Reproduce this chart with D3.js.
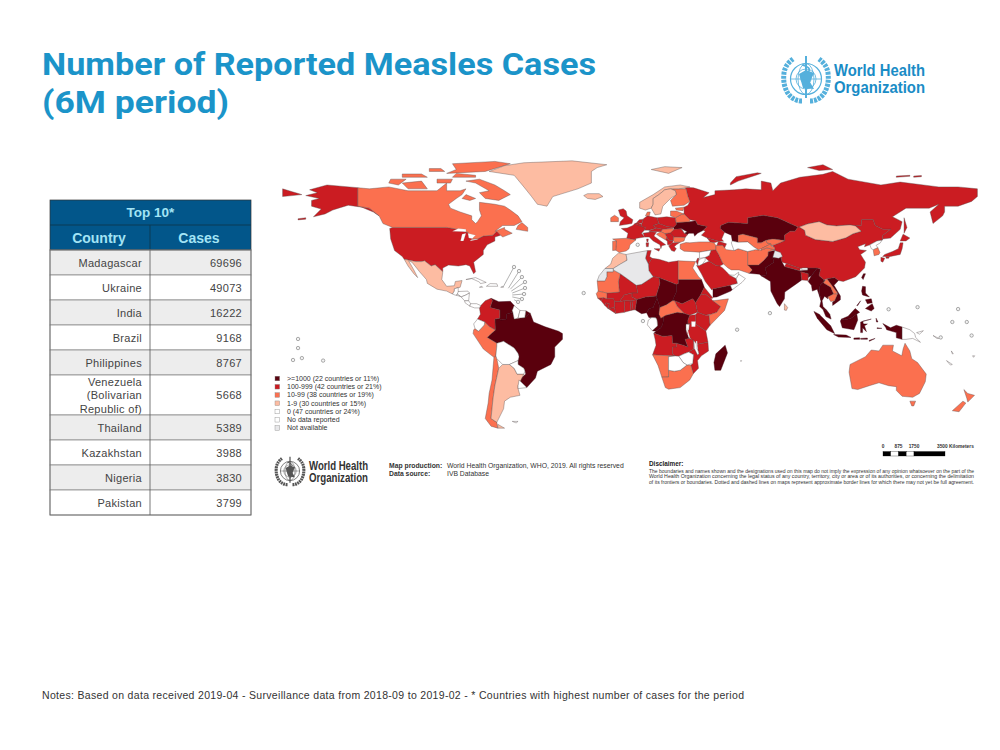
<!DOCTYPE html>
<html>
<head>
<meta charset="utf-8">
<script src="https://cdn.jsdelivr.net/npm/d3@7"></script>
<style>
  html, body { margin: 0; background: #fff; }
  text { font-family: "Liberation Sans", Arial, sans-serif; }
</style>
</head>
<body>
<svg id="chart" width="1000" height="750"></svg>
<script>
// top 10 table
const tableTitle = 'Top 10*';
const tableHeads = ['Country', 'Cases'];
const countries = ['Madagascar', 'Ukraine', 'India', 'Brazil', 'Philippines', 'Venezuela (Bolivarian Republic of)', 'Thailand', 'Kazakhstan', 'Nigeria', 'Pakistan'];
const cases = [69696, 49073, 16222, 9168, 8767, 5668, 5389, 3988, 3830, 3799];

// legend
const legendLabels = ['>=1000 (22 countries or 11%)', '100-999 (42 countries or 21%)', '10-99 (38 countries or 19%)', '1-9 (30 countries or 15%)', '0 (47 countries or 24%)', 'No data reported', 'Not available'];
const binColors = ['#5a0410', '#cb1a20', '#fb7050', '#fdbca2', '#ffffff', '#ffffff', '#e8e8ea'];

// country outlines as "lon,lat" rings, one list per legend class
const binOver1000 = [
  ['Brazil', '-51.7,4.5 -50,0 -44,-2.5 -37,-4.8 -35,-6 -35,-9 -39,-13 -39,-18 -41,-22 -48,-25.5 -49,-29 -53.5,-34 -57.5,-30 -54,-27 -54.5,-25 -55,-24 -58,-22 -58,-20 -57.5,-18 -58,-16.3 -60,-13.5 -65.5,-10 -69,-11 -74,-8 -73,-7 -69.8,-4.2 -70,1.5 -67.5,2 -67,1 -64,1.5 -64,4 -60.7,5 -60,1.5 -58,2 -54.5,2.3'],
  ['French Guiana', '-54,5.8 -51.7,4.5 -54.5,2.3'],
  ['Venezuela', '-72,12.3 -68,10.5 -62,10.7 -60,8.5 -61,6 -60.7,5 -64,4 -64,1.5 -67,1 -67.5,2 -67.5,6.2 -72.5,7.5 -71.3,11'],
  ['Madagascar', '49.3,-12 50.5,-16 47,-25 44,-25 43.5,-21 44.5,-16.5'],
  ['Ukraine', '22.5,49 24,50.5 24,51.5 31,52 34,52.5 35,50.5 40,49.5 38,47.5 35,46 33.5,44.5 33,46 30.5,46 29.7,45.2 28.2,46 26.6,48.3 22.9,48'],
  ['Kazakhstan', '46.7,48.5 47,50 51,51.7 61,51 61,54 69,55.3 76.5,54 87,49.2 85.5,47 83,47 80,45 80.2,42.2 74,43 70.5,42.3 68,41 66,41 66,43.5 58.5,45.5 56,45 56,41.3 53,42 52.5,45 49,46.5'],
  ['Pakistan', '61,29.5 63.3,27 61.7,25.2 67,24.8 68.2,23.8 71,24.5 70,28 74.5,31 74,33 77,35.5 74.9,37 71.6,36.4 71.5,34.5 69.3,31.9 66.5,29.5'],
  ['India', '68.2,23.8 72.8,21 73,16 76.3,9.5 77.5,8 80,12 80.2,15.5 86.5,20 89,21.8 88.5,26 92.3,25 92.3,23 94,24 97,28 92,28 92,26.8 88,26.5 80,28.7 78.8,31 78,35 77,35.5 74,33 74.5,31 70,28 71,24.5'],
  ['Myanmar', '92.3,21 94,24 97,28 98.7,27.5 98,24 101,21.5 98.5,19 98,16 99,11 98,14 97,17 94.5,16 94,19'],
  ['Thailand', '98.5,19 101,21.5 100.2,20.4 104,18 105.5,14.5 102.5,13 102.5,12 100.8,13.4 99.5,11 100,8 102,6 100,6.5 98.3,8 99,11 98,16'],
  ['Vietnam', '102,22.4 106,23 108,21.5 105.7,19 109,13.5 109,11.5 105,8.6 105,10.4 106,11 107.5,14.5 107.5,15 104.5,19'],
  ['Malaysia', '100,6.5 102,6 103.5,4 104.2,1.5 101.5,2.8'],
  ['Malaysia', '109.6,1.5 113,3 116.7,7 119,5 117.5,4.2 114.5,2 111,1'],
  ['Indonesia', '109,0.5 109.6,1.5 111,1 114.5,2 117.5,4.2 118,1 116,-4 110,-3'],
  ['Indonesia', '95.3,5.5 98,4 104,-2 106,-6 102,-4 97,2'],
  ['Indonesia', '105.5,-6.5 112,-6.8 114.5,-8 108,-7.8'],
  ['Indonesia', '116,-8.3 119,-8.2 119,-9 116,-9'],
  ['Indonesia', '119.5,-8.5 123,-8.3 123,-9 119.5,-8.9'],
  ['Indonesia', '124,-9.5 127,-8.5 124,-10'],
  ['Indonesia', '119.5,-5.5 119.5,0 125,1.5 120.5,0.4 121,-1 123,-1 121.5,-2 122.5,-5 120.5,-3 120.5,-5.5'],
  ['Indonesia', '127.5,2 128.5,0 127.7,0'],
  ['Indonesia', '128,-3 130.5,-3.3 128,-3.4'],
  ['Indonesia', '131,-0.8 135,-3 138,-1.7 141,-2.6 141,-9 138,-8.2 138,-5.5 133,-4 132.5,-2.8'],
  ['Philippines', '120.5,18.5 122,18.3 122,15 124,13 120.5,14 120,16'],
  ['Philippines', '122,7 125.5,9.5 126.5,7 125,5.7'],
  ['Philippines', '122,11.5 125,12 125.5,10 123,9.5'],
  ['Philippines', '117.5,8.5 119.5,11 118,8.5'],
  ['Taiwan', '121,25 122,25 120.8,22 120,23'],
  ['Yemen', '43,12.8 45,13 52.2,16 53,16.7 52,19 44,17.4 43,17.3'],
  ['Sudan', '25,22 37,22 38.5,18 36.5,14 34,10 32.5,12 27,9.5 23,11 22,11 24,15.5 24,19.5 25,20'],
  ['Chad', '15,23 24,19.5 24,15.5 22,11 19,9 15.5,7.5 14,12.5 13.5,13.5 15.5,20'],
  ['Nigeria', '2.7,6.3 3.5,11.7 8,13 13.5,13.5 14,12.5 12,7.5 10,7 8.6,4.8 6,4.3'],
  ['Cameroon', '8.6,4.8 10,7 12,7.5 14,12.5 15.5,7.5 15,4 16,2 13.3,2.2 9.8,2.3'],
  ['DR Congo', '18.6,3.5 24.5,5 28,4.5 31,3.5 30,1 30,-1 29,-1.2 29,-4.4 29.5,-6 30.8,-8.5 28.5,-9 30,-13 27.5,-12 24,-11 22,-11 21.8,-7 17,-7.5 13,-6 12.3,-5.8 13.5,-4.8 16,-3 17,-1 17.5,3'],
  ['Congo', '13,3.5 18.6,3.5 17.5,3 17,-1 16,-3 13.5,-4.8 11.5,-4.5 14.3,-2 14,1']
];
const bin100 = [
  ['USA', '-124.5,48.5 -124,43 -122,37 -118,34 -117,32.5 -111,31.3 -108,31.3 -106.5,31.7 -103,29 -101,29.7 -97,26 -97,28 -94,29.5 -89,29 -85,29.7 -83,29 -81,25 -80,26 -81,31 -76,35 -76,37 -74,40 -70,42 -70,44 -67,45 -69,47 -71,45 -76,44.5 -79,43 -82,43 -83,46 -89,48 -95,49 -123,49'],
  ['USA', '-141,69.6 -141,60 -135,59 -130,55 -133,57 -139,59.5 -146,60.5 -151,59 -154,58 -158,56 -164,54.5 -160,58.5 -165,60 -165,63 -161,64 -168,65.5 -162,67 -166,68.5 -157,71'],
  ['USA', '-172,53.5 -168,54 -168,53.3 -172,52.9'],
  ['Colombia', '-77.3,8.5 -75,11 -72,12.3 -71.3,11 -72.5,7.5 -67.5,6.2 -67.5,2 -70,1.5 -69.8,-4.2 -73,-2.3 -75.3,0 -79,1.5 -77.5,4 -78,7.3'],
  ['Russia', '28,69.8 33,69.5 41,67 38,64.5 44,66 44,68 54,68.5 60,69 68,68.5 68,73 73,72 74,68 78,72 88,75 100,76.5 105,78 113,74 130,71 140,72.5 160,70 170,70 180,69 180,65 177,62.5 170,60 163,60 163,57 162,55 157,51 155.5,57 160,61 155,59 143,59 136,54.5 141,52 140,48 135,43.5 131,43 130.6,42.4 131,45 135,48 131,48 127,50 126,53 120,53 119.8,50 116.7,49.8 114,50.3 107,49.8 102,50.3 98,52 92,50.8 87.8,49.2 87,49.2 76.5,54 69,55.3 61,54 61,51 51,51.7 47,50 46.7,48.5 49,46.5 47.5,43 48.5,41.8 46,41.8 40,43.5 37,45 39,47 38,47.5 40,49.5 35,50.5 34,52.5 31,53 28,56 28,59.5 30,60.5 31,62.5 30,65 29,69'],
  ['Russia', '-180,65 -170,66 -175,67.5 -180,69'],
  ['Russia', '52,71 56,73 68,77 66,77.3 55,75.3 52,72'],
  ['Russia', '92,80 100,81.5 105,79 98,78.5'],
  ['Russia', '138,75 145,75.5 145,76 138,75.6'],
  ['Russia', '147,75 151,75.3 151,75.9 147,75.6'],
  ['Russia', '142,54 143.5,49 142,46 142,50'],
  ['China', '73.7,39.5 80.2,42.2 80,45 83,47 85.5,47 87,49.2 87.8,49.2 90.5,47.5 91,45 96,42.7 105,41.7 111.8,43.6 115.5,45.7 119.8,47 116.7,49.8 119.8,50 120,53 126,53 127,50 131,48 135,48 131,45 130.6,42.4 128,42 124.3,40 121.5,39 122,40.5 118,39 119,37.5 122.5,37 119.5,35 122,31 121.5,28 117,23.5 110.5,21 108,21.5 106,23 102,22.4 100.2,21.5 101,21.5 98,24 98.7,27.5 97,28 92,28 88,27.8 81,30.3 78.8,31 78,35 74.9,37 74.9,37.4 75,38.5'],
  ['Japan', '130.9,34 135,34 140,35 141,38 141.5,41 140,41 139,38 136,36.5 132,35'],
  ['Japan', '140,42 141.5,45.5 145,43.5 143,42'],
  ['Japan', '130,33.5 132,33 131,31 130,31.5'],
  ['Japan', '132.5,34 134.5,34 134,33 132.7,33'],
  ['Nepal', '80,28.7 88,26.5 88.2,27.8 81,30.3'],
  ['Bangladesh', '88.5,26 92.3,25 92.3,21.5 89,21.8'],
  ['Iraq', '42,37.2 44.5,37.5 46,35 47.8,31 48.5,30 46.5,29 44.7,29.2 41,31.5 38.8,33.4 41,34.5'],
  ['Saudi Arabia', '34.5,29.3 36,29.3 37.5,30 41,31.5 44.7,29.2 46.5,29 48,28 50,26 51.5,24.4 55,22.5 55.7,20 52,19 44,17.4 43,17.3 42.5,16.5 39,21 37,25'],
  ['Georgia', '40,43.5 46,41.8 43.5,41 41.5,41.5'],
  ['Azerbaijan', '46,41.8 50,40.5 49,38.3 48,39.7 45,39.5 45.5,41'],
  ['Israel', '34.3,31.3 35,29.5 35.5,31.5 35.7,33 35,33'],
  ['Tunisia', '9,37 11,37 10.2,34 11.5,33 9.5,30 8,33'],
  ['Libya', '11.5,33 15,32.5 20,31 25,31.7 25,20 24,19.5 15,23 12,23.5 9.8,26.5 9.5,30'],
  ['Mali', '-5,25 3.3,19 4,15 1,15 -3,14 -5.5,10.5 -8,10.5 -8.5,12 -12,12 -12,15 -5.5,15.5 -6,21'],
  ['Niger', '3.3,19 6,19.5 12,23.5 15,23 15.5,20 13.5,13.5 8,13 3.5,11.7 1,13 1,15 4,15'],
  ['South Sudan', '23,11 27,9.5 32.5,12 34,10 35,5 31,3.5 28,4.5 24.5,8'],
  ['Ethiopia', '36.5,14 39,14.5 42,12 43,11 47,8 45,5 42,4 39,3.5 35,5 34,10'],
  ['Eritrea', '38.5,18 43,12.5 42,12 39,14.5 36.5,14'],
  ['Kenya', '35,5 39,3.5 41,3.5 41.5,-1.7 39.3,-4.7 34,-1 34,3.8'],
  ['Uganda', '31,3.5 34,3.8 34,-1 30,-1 30,1'],
  ['Tanzania', '30,-1 34,-1 39.3,-4.7 40.4,-10.5 35,-11.5 32,-9.3 29.5,-6'],
  ['Benin', '1.6,6.2 2.7,6.3 3.5,11.7 1,11'],
  ['Togo', '0.5,6 1.6,6.2 1,11 0,11'],
  ['Ghana', '-3,5 0.5,6 0,11 -3,11 -2.8,8'],
  ['Burkina Faso', '-5.5,10.5 -3,11 0,11 1,11 3.5,11.7 1,13 1,15 -3,14'],
  ["Cote d'Ivoire", '-7.5,4.4 -3,5 -2.8,8 -3,11 -5.5,10.5 -8,10.5 -8,7.5'],
  ['Liberia', '-11.4,7 -7.5,4.4 -8,7.5'],
  ['Sierra Leone', '-13,8.5 -11.4,7 -10.7,9.5 -12.5,10'],
  ['Guinea', '-15,11 -13,8.5 -12.5,10 -10.7,9.5 -11.4,7 -8,7.5 -8,10.5 -8.5,12 -12,12 -13.7,12.7'],
  ['Guinea-Bissau', '-16.7,12.3 -13.7,12.7 -15,11'],
  ['Angola', '11.7,-17 13.5,-12 13,-9 12.3,-6 13,-6 17,-7.5 21.8,-7 22,-11 24,-11 24,-13 22,-13 22,-16.5 23.4,-17.6 18.5,-17.4'],
  ['Zambia', '22,-13 24,-13 24,-11 27.5,-12 30,-13 28.5,-9 30.8,-8.5 33,-9.5 33,-14 30.4,-15.6 28,-16.5 25.3,-17.8 23.4,-17.6 22,-16.5'],
  ['Mozambique', '40.4,-10.5 35,-11.5 34.5,-11.5 35,-14 35.7,-16.5 35,-17 33.5,-14 33,-14 30.4,-15.6 32.9,-17 32.5,-21.5 31.5,-22.4 32.8,-26.8 35.5,-24 35,-20 37,-17.5 40.7,-15'],
  ['United Kingdom', '-5.5,50 1,51 1.5,53 -1.5,55 -2,57.5 -3.5,58.7 -6,58 -5,55 -3,54 -5,52'],
  ['France', '-4.5,48.4 -1.5,48.7 1.5,50 2.5,51 8,49 7.5,47.5 6,46 7.5,44 3,43.3 3,42.5 -1.7,43.4 -1,46'],
  ['France', '8.6,43 9.5,43 9.3,41.5 8.7,41.7'],
  ['Belgium', '2.5,51 4,51.5 6,50.5 6,49.5'],
  ['Netherlands', '3.5,51.5 4.8,53 7,53.3 6,51'],
  ['Germany', '6,50.5 7,53.5 9,55 14,54 15,51 12,50 13.8,48.7 10,47.5 7.5,47.5 8,49 6,49.5'],
  ['Poland', '14,54 19,54.5 23.5,54 24,50.5 22.5,49 19,49.5 15,51'],
  ['Czechia', '12,50 15,51 19,49.5 22.5,49 22,48.4 17,48 13.8,48.7'],
  ['Austria', '9.5,47.2 13.8,48.7 17,48 16,46.8 10,46.8'],
  ['Italy', '7.5,44 6.8,46 10,46.8 13.7,46.5 12.4,44.5 16,41.9 18.5,40 16.5,39.5 16,38 15.5,40 12,42 10,44'],
  ['Italy', '12.5,38 15.5,38 15,36.7'],
  ['Italy', '8.3,41 9.7,41 9.5,39 8.5,39'],
  ['Romania', '20.3,46 22.9,48 26.6,48.3 28.2,46 29.7,45.2 28.6,43.8 22.7,44'],
  ['Serbia', '18,45.8 21,46.2 22.7,44 22.5,42.3 20.5,42 19,44'],
  ['Albania', '18.5,42.5 19,44 20.5,42 22.5,42.3 22,41 21,40 19.5,40 19.3,42'],
  ['Greece', '20,39.5 21,40 22,41 26,41.3 24,40 23,39 24,38 23,36.5 21.5,37']
];
const bin10 = [
  ['Canada', '-141,69.6 -141,60 -135,59 -130,55 -128,51 -123,49 -95,49 -89,48 -84,46.5 -82,43 -79,43 -76,44.5 -71,45 -69,47 -67,45 -66,44 -61,46 -65,48 -65,49 -70,47 -66,50 -60,50 -56,52 -58,55 -62,58 -65,60 -70,61 -78,62 -78,58 -77,55 -79,52 -80,51 -82,53 -82,55 -88,57 -93,59 -94,61 -90,64 -87,66 -85,69 -88,68 -95,68 -95,72 -100,68 -108,68 -115,68 -125,70 -135,69'],
  ['Canada', '-62,66 -68,63 -75,64 -78,67 -73,68 -80,72 -85,73 -78,74 -70,71 -65,68'],
  ['Canada', '-105,69 -115,69 -118,72 -108,73'],
  ['Canada', '-125,72 -120,71 -116,74 -124,74'],
  ['Canada', '-95,77 -75,78 -62,82 -70,83.2 -92,82 -90,79'],
  ['Canada', '-92,75 -80,75 -80,76 -90,77'],
  ['Canada', '-118,75 -105,75 -108,76.7 -118,76.7'],
  ['Canada', '-100,72 -93,72 -92,74 -100,74'],
  ['Canada', '-104,78 -96,78 -98,79.5 -104,79.5'],
  ['Canada', '-59,48 -53,47 -53,49 -56,51.5 -58,50'],
  ['Canada', '-85,66 -80,64 -83,63 -87,64'],
  ['Peru', '-80.3,-3.4 -78.5,-4.8 -75.5,-1.5 -75.3,0 -73,-2.3 -69.8,-4.2 -73,-7 -74,-8 -69,-11 -69,-12.5 -69.5,-17.5 -70.5,-18.3 -76,-14 -81.3,-6 -81,-4'],
  ['Chile', '-69.5,-17.5 -69,-19 -68,-24 -70,-33 -71,-40 -72,-50 -69,-52 -68.5,-55 -72,-54 -75,-50 -73.5,-42 -73,-37 -71.5,-30 -70.5,-18.3'],
  ['Spain', '-9,43 -1.7,43.4 3,42.5 0,40 -0.5,38 -2,36.8 -5.5,36 -7.4,37.2 -7,42'],
  ['Portugal', '-9,41.9 -7,42 -7.4,37.2 -9,37'],
  ['Ireland', '-10,52 -6,52 -6,54 -8,55.3 -10,54'],
  ['Denmark', '8,55 9,57 10.5,57 10,55'],
  ['Finland', '22,60 28,60.5 31,62.5 30,65 29,69 25,69 21,69 23.5,68 24,66 21,63'],
  ['Belarus', '24,51.5 23.5,54 26.5,55.7 28,56 31,53 31,52'],
  ['Latvia', '21,56 21,57.5 24,57.5 28,56 26.5,55.7 23.5,54 21,55'],
  ['Estonia', '23.5,59 28,59.5 27.5,57.7 24,58'],
  ['Hungary', '16,46.8 17,48 22,48.4 22.9,48 21,46.2 18,45.8'],
  ['Croatia', '13.7,45.5 16,46.8 18,45.8 19,44 18.5,42.5 15,44.5'],
  ['Bulgaria', '22.5,42.3 22.7,44 28.6,43.8 28,42 26,41.3 23,41.3'],
  ['Turkey', '26,40.3 26,38 28,36.7 36,36.2 42,37.2 44.5,37.5 44.5,39.7 43.5,41 41.5,41.5 36,41.5 31,41 29,41.2'],
  ['Iran', '44.5,39.7 44.5,37.5 46,35 47.8,31 48.5,30 50.8,28 52.5,27 56.5,27 61.7,25.2 63.3,27 61,29.5 61,36.5 56,38 53.9,37 50,37.5 49,38.3 48,39.7'],
  ['Afghanistan', '61,36.5 61,29.5 66.5,29.5 69.3,31.9 71.5,34.5 71.6,36.4 74.9,37.4 71,38.4 67.8,37.2 65,37.5'],
  ['Uzbekistan', '56,45 58.5,45.5 66,43.5 66,41 68,41 70.5,42.3 71,41 73,40.5 68,38 66.5,37.4 64,39 61,41.5 56,41.3'],
  ['Kyrgyzstan', '70.5,42.3 74,43 80.2,42.2 76,40.4 73,39.5 73,40.5 71,41'],
  ['Tajikistan', '68,38 73,40.5 73,39.5 75,38.5 74.9,37.4 71,38.4 67.8,37.2'],
  ['Laos', '100.2,20.4 102,22.4 104.5,19 107.5,15 105.7,14 105.5,14.5 104,18'],
  ['Cambodia', '102.5,13 105.5,14.5 107.5,14.5 106,11 104,10.6'],
  ['South Korea', '126,37.5 128.4,38.6 129.5,36 129,35 126.5,34.3'],
  ['Egypt', '25,31.7 34,31.3 32.5,28 35.5,23.5 37,22 25,22'],
  ['Mauritania', '-17,21.3 -13,21.3 -12,23.5 -12,26 -8.7,26 -8.7,27 -5,25 -6,21 -5.5,15.5 -12,15 -16.5,16'],
  ['Senegal', '-17.5,14.7 -16.5,16 -12,15 -12,12 -13.7,12.7 -16.7,12.3'],
  ['CAR', '15,4 15.5,7.5 19,9 22,11 23,11 24.5,8 28,4.5 24.5,5 18.6,3.5 16,2'],
  ['Somalia', '43,11 51,12 49,6 41.5,-1.7 41,3.5 42,4 45,5 47,8'],
  ['Namibia', '11.7,-17 18.5,-17.4 23.4,-17.6 20,-18 20,-22 20,-28.5 16.5,-28.6 14.5,-22.5'],
  ['South Africa', '16.5,-28.6 20,-28.5 20,-25 23,-25.5 26,-25 29.5,-22.3 31.5,-22.4 32.8,-26.8 31,-30 26,-34 20,-34.8 18.3,-34'],
  ['Australia', '114,-22 113.5,-26 115,-34.5 118,-35 124,-33 129,-31.5 134,-33 138,-33.5 138,-35.5 141,-38.5 146.5,-39 150,-37 153,-31 153.5,-27 149,-21 146,-19 145,-15 142.5,-11 141.5,-14 140.8,-17.5 136,-15 136.5,-12 131,-12 129,-15 125,-14.5 122,-18'],
  ['Australia', '145,-41 148,-41 147,-43.5 146,-43.5'],
  ['New Zealand', '173,-35 175,-37 178.5,-38 175,-41.5 174.5,-39.5'],
  ['New Zealand', '172.5,-41 174,-42 170.5,-46.5 167,-46']
];
const bin1 = [
  ['Greenland', '-73,78 -60,76 -55,70 -51,65 -48,61 -43,60 -40,65 -27,69 -20,72 -20,78 -17,80 -12,81.5 -30,83.5 -55,82.5 -65,81'],
  ['Iceland', '-24,65.5 -22,64 -18,63.5 -14,65 -16,66.5 -22,66.5'],
  ['Mexico', '-117,32.5 -111,31.3 -108,31.3 -106.5,31.7 -103,29 -101,29.7 -97,26 -97.5,22 -95,18.5 -91,18.8 -90.5,21 -87,21.5 -88,18 -89,17.8 -91,17.2 -91,16 -92,14.5 -95,16 -100,17 -105,20 -105.5,22 -109,26 -113,31 -114.7,31.7 -112,27 -110,23 -112,25 -115,29'],
  ['Argentina', '-66,-22 -62.5,-22 -60,-24 -58.5,-27 -55,-27 -58,-33 -58,-34.5 -57,-38 -62,-39 -65,-41 -65.5,-45 -68,-50 -69,-52 -72,-50 -71,-40 -70,-33 -68,-24'],
  ['Argentina', '-68.5,-53 -65,-55 -68.5,-55'],
  ['Morocco', '-5.9,35.8 -2,35 -1.5,32 -5,30 -8.7,27.7 -13,27.7 -10,30 -9,33'],
  ['Norway', '5,59 8,58 11,59 12,61 12,64 15,66 18,68.5 21,69 25,69 29,69.5 31,70 26,71 18,70 12,66 5,62'],
  ['Sweden', '11,59 13,55.5 16,56 17,60 21,64 24,66 23.5,68 21,69 18,68.5 15,66 12,64 12,61'],
  ['Svalbard', '11,79 20,77 27,80 18,80.5'],
  ['Mongolia', '87.8,49.2 92,50.8 98,52 102,50.3 107,49.8 114,50.3 116.7,49.8 119.8,47 115.5,45.7 111.8,43.6 105,41.7 96,42.7 91,45 90.5,47.5'],
  ['Sri Lanka', '80,9.5 81.7,7.5 81,6 80,6.2']
];
const bin0 = [
  ['Guatemala', '-92,14.5 -91,16 -91,17.2 -89,17.8 -89,15.8 -88.5,15.8 -89.5,14.2 -90.5,13.9'],
  ['Honduras', '-89,15.8 -84,16 -83.2,15 -85,14 -87.5,13 -89.5,14.2'],
  ['El Salvador', '-90,13.8 -87.8,13.3 -89.3,14.4'],
  ['Nicaragua', '-87.5,13 -85,14 -83.2,15 -83.6,11 -85.7,11'],
  ['Costa Rica', '-85.7,11 -83.6,11 -82.6,9.5 -83,8.2 -85.5,10'],
  ['Panama', '-83,8.2 -82.6,9.5 -79.5,9.5 -77.3,8.5 -78,7.3 -80.5,7.3'],
  ['Cuba', '-85,22 -80,23 -74.5,20.5 -77.5,19.9 -78,20.7 -82,22.5'],
  ['Hispaniola', '-74.4,18.5 -68.5,18.5 -69,19.8 -72.5,19.9'],
  ['Jamaica', '-78,18 -76.3,18 -76.8,18.5'],
  ['Puerto Rico', '-67,18 -65.6,18 -66,18.5'],
  ['Guyana', '-60,8.5 -57,6 -58,2 -60,1.5 -60.7,5 -61,6'],
  ['Suriname', '-57,6 -54,5.8 -54.5,2.3 -58,2'],
  ['Ecuador', '-79,1.5 -75.3,0 -75.5,-1.5 -78.5,-4.8 -80.3,-3.4 -81,-1'],
  ['Bolivia', '-69,-11 -65.5,-10 -60,-13.5 -58,-16.3 -57.5,-18 -58,-20 -62.5,-22 -66,-22 -69,-19 -69.5,-17.5 -69,-12.5'],
  ['Paraguay', '-58,-20 -58,-22 -55,-24 -54.5,-25.5 -55,-27 -58.5,-27 -60,-24 -62.5,-22'],
  ['Uruguay', '-57.5,-30 -53.5,-34 -58,-34.5 -58,-33'],
  ['Falkland Islands', '-61,-51.5 -58,-51.5 -59,-52.3'],
  ['Gabon', '9.5,1 11.3,2.3 13.3,2.2 14,1 14.3,-2 11.5,-4.5 9,-1.5'],
  ['Rwanda', '29,-1.2 30.8,-1.2 30.5,-4.3 29,-4.4'],
  ['Malawi', '33,-9.5 34.5,-11.5 35,-14 35.7,-16.5 35,-17 33.5,-14'],
  ['Zimbabwe', '25.3,-17.8 28,-16.5 30.4,-15.6 32.9,-17 32.5,-21.5 29.5,-22.3 27.5,-21'],
  ['Botswana', '20,-18 23.4,-17.6 25.3,-17.8 27.5,-21 29.5,-22.3 26,-25 23,-25.5 20,-25'],
  ['Syria', '36,36.2 42,37.2 41,34.5 38.8,33.4 36,33'],
  ['Jordan', '35,29.4 36,29.3 37.5,30 39,32 38.8,33.4 36,32.5 35.5,31.5'],
  ['Oman', '55,22.5 56.3,24.8 59.8,22.5 58,20.5 53,16.7 52,19 55.7,20'],
  ['UAE', '51.5,24.4 54,24.2 56.3,25.8 56.3,24.8 55,22.5'],
  ['Turkmenistan', '53,42 56,41.3 61,41.5 64,39 66.5,37.4 65,37.5 61,36.5 56,38 53.9,37 53,39.5 52.5,41'],
  ['Moldova', '26.6,48.3 29.5,46.8 28.2,46'],
  ['Switzerland', '6,46 7.5,47.5 10,47.5 10,46.5'],
  ['Bhutan', '89,27 92,27 92,28 89,28'],
  ['North Korea', '124.3,40 128,42 130.6,42.4 129.7,41 127.5,39.7 128.4,38.6 126,37.5 125,38'],
  ['Papua New Guinea', '141,-2.6 145,-4 147.5,-6 148,-8 150.5,-10.5 146.5,-8.5 143,-9 141,-9'],
  ['Papua New Guinea', '148.5,-5.5 152,-4.5 150,-6.3'],
  ['Solomon Islands', '157,-7 160,-8.5 159,-8.5'],
  ['Vanuatu', '166.5,-15 167.5,-16.5 167,-16.5'],
  ['New Caledonia', '164,-20 167,-22 166,-22.3'],
  ['Fiji', '177.5,-17.5 178.6,-17.5 178,-18.3'],
  ['Mauritius', '57.3,-20 57.8,-20 57.5,-20.5']
];
const binNoData = [];
const binNotAvailable = [
  ['Algeria', '-2,35 9,37 8,33 9.5,30 9.8,26.5 12,23.5 6,19.5 3.3,19 -5,25 -8.7,27 -8.7,27.7 -5,30 -1.5,32'],
  ['Western Sahara', '-13,27.7 -8.7,27.7 -8.7,26 -12,26 -12,23.5 -13,21.3 -17,21.3 -16,24'],
  ['Jammu and Kashmir', '74,33.5 77,33 79,34 78,36 75,37']
];
const lakes = [
  '-92,47 -85,46.7 -85,48 -89,48.5',
  '-87.8,42 -86.3,42 -85,46 -87,45.5',
  '-84,46 -80,45 -81.7,43.2 -83.5,43.5',
  '-83,42 -79,42.8 -79,43 -82,42.8',
  '31.8,0.2 34,0.2 33.8,-2.5 31.9,-2.5',
  '29.2,-3.5 29.8,-3.5 31,-8 30.4,-8',
  '34.2,-9.8 34.8,-10 35,-14 34.5,-14'
];

// small states shown as circles, lon/lat
const islandMarks = [[-172, -8.8], [-172, -13.5], [-174.6, -19.7], [-170, -18.7], [-159, -20], [-24, 15], [6.7, 0.5], [55.5, -4], [72.5, 4.6], [4, 40], [134, 6.6], [149, 7.7], [170, 6.7], [167, 0], [174.5, 0], [177, -7], [161, -8]];
// Caribbean leader lines, island then circle
const leaderFrom = [[-65.8, 18], [-63, 17.5], [-62, 17], [-61.5, 16], [-61, 15], [-61, 14], [-61, 13], [-60, 11.5]];
const leaderTo = [[-60.1, 28.5], [-57.5, 26.4], [-56, 23.3], [-54.4, 20.7], [-54.4, 17.6], [-54.9, 14.5], [-56, 11.9], [-58, 10.4]];

const scaleStops = [0, 875, 1750, 3500];
const scaleStopLabels = ['0', '875', '1750', '3500 Kilometers'];

const svg = d3.select('#chart');
const blue = '#1b94c9';

// title
svg.append('g').selectAll('text')
  .data(['Number of Reported Measles Cases', '(6M period)'])
  .enter().append('text')
  .attr('x', 42)
  .attr('y', (d, i) => 75 + i * 37.8)
  .attr('fill', blue)
  .style('font-family', 'Roboto, sans-serif')
  .style('font-size', '32px')
  .style('font-weight', 700)
  .attr('textLength', (d, i) => i === 0 ? 554 : 187)
  .attr('lengthAdjust', 'spacingAndGlyphs')
  .text(d => d);

// logo, drawn in a 50 unit box around the centre
function whoLogo(cx, cy, k, color, textColor, tx, ty, fs, lh, tw) {
  const g = svg.append('g').attr('transform', `translate(${cx},${cy}) scale(${k})`)
    .attr('fill', 'none').attr('stroke', color);
  g.append('circle').attr('r', 15.5).attr('stroke-width', 1.2);
  g.append('circle').attr('r', 10).attr('stroke-width', 0.8);
  g.append('circle').attr('r', 5).attr('stroke-width', 0.8);
  g.append('ellipse').attr('rx', 8).attr('ry', 15.5).attr('stroke-width', 0.8);
  g.append('line').attr('x1', -15.5).attr('x2', 15.5).attr('stroke-width', 0.8);
  g.append('line').attr('y1', -15.5).attr('y2', 15.5).attr('stroke-width', 0.8);
  g.append('path').attr('d', 'M-7 -5 L0 -9 L8 -6 L4 3 L8 10 L-3 9 L-5 2 Z').attr('fill', color).attr('stroke', 'none');
  g.append('line').attr('y1', -23).attr('y2', 19).attr('stroke-width', 2);
  g.append('path').attr('d', 'M-4 -14 C5 -12 5 -8 0 -6 C-6 -3 -4 2 1 3 C5 5 3 9 0 10').attr('stroke-width', 1.6);
  for (const s of [-1, 1]) {
    g.append('path')
      .attr('d', `M${s * 4} 22 C${s * 16} 22 ${s * 24} 10 ${s * 22} -6 C${s * 21} -13 ${s * 17} -17 ${s * 13} -20`)
      .attr('stroke-width', 5)
      .attr('stroke-dasharray', '3 1');
  }
  svg.append('g').selectAll('text')
    .data(['World Health', 'Organization'])
    .enter().append('text')
    .attr('x', tx)
    .attr('y', (d, i) => ty + i * lh)
    .attr('fill', textColor)
    .style('font-family', '"Liberation Sans Narrow", "Liberation Sans", sans-serif')
    .style('font-size', fs + 'px')
    .style('font-weight', 700)
    .attr('textLength', tw)
    .attr('lengthAdjust', 'spacingAndGlyphs')
    .text(d => d);
}
whoLogo(806, 79, 1, '#55b0dc', '#1a8cc6', 834, 76, 17, 17, 91);
whoLogo(290, 471, 0.62, '#555', '#333', 309, 470, 12, 12, 59);

// table
const tx0 = 50, tx1 = 150, tx2 = 251;
const headColor = '#02568a';
const rowHeights = countries.map(c => c.startsWith('Venezuela') ? 40 : 25);
const rowTops = rowHeights.map((h, i) => 250 + d3.sum(rowHeights.slice(0, i)));
const tableG = svg.append('g');
tableG.append('rect').attr('x', tx0).attr('y', 200).attr('width', tx2 - tx0).attr('height', 50).attr('fill', headColor).attr('stroke', '#333').attr('stroke-width', 0.7);
tableG.append('line').attr('x1', tx0).attr('x2', tx2).attr('y1', 225).attr('y2', 225).attr('stroke', '#0a3a55');
tableG.append('line').attr('x1', tx1).attr('x2', tx1).attr('y1', 225).attr('y2', 250).attr('stroke', '#0a3a55');
tableG.append('text').attr('x', (tx0 + tx2) / 2).attr('y', 217).attr('text-anchor', 'middle').attr('fill', '#a3e4f5').style('font-size', '13.5px').style('font-weight', 700).text(tableTitle);
tableG.selectAll('.head').data(tableHeads).enter().append('text')
  .attr('x', (d, i) => i === 0 ? 99 : 199)
  .attr('y', 243)
  .attr('text-anchor', 'middle')
  .attr('fill', '#a3e4f5')
  .style('font-size', '14px')
  .style('font-weight', 700)
  .text(d => d);

const rows = tableG.selectAll('.row').data(countries).enter().append('g');
rows.append('rect')
  .attr('x', tx0).attr('width', tx2 - tx0)
  .attr('y', (d, i) => rowTops[i])
  .attr('height', (d, i) => rowHeights[i])
  .attr('fill', (d, i) => i % 2 === 0 ? '#ededed' : '#fff')
  .attr('stroke', '#8c8c8c').attr('stroke-width', 0.8);
rows.append('text')
  .attr('x', 242)
  .attr('y', (d, i) => rowTops[i] + rowHeights[i] / 2 + 4)
  .attr('text-anchor', 'end')
  .attr('fill', '#444')
  .style('font-size', '11px')
  .style('letter-spacing', '0.3px')
  .text((d, i) => cases[i]);
rows.each(function (d, i) {
  const lines = d.startsWith('Venezuela') ? ['Venezuela', '(Bolivarian', 'Republic of)'] : [d];
  d3.select(this).selectAll('.name').data(lines).enter().append('text')
    .attr('x', 142)
    .attr('y', (l, j) => rowTops[i] + rowHeights[i] / 2 + 4 + (j - (lines.length - 1) / 2) * 13.5)
    .attr('text-anchor', 'end')
    .attr('fill', '#444')
    .style('font-size', '11px')
    .style('letter-spacing', '0.3px')
    .text(l => l);
});
tableG.append('line').attr('x1', tx1).attr('x2', tx1).attr('y1', 250).attr('y2', 515).attr('stroke', '#555').attr('stroke-width', 0.8);
tableG.append('rect').attr('x', tx0).attr('y', 250).attr('width', tx2 - tx0).attr('height', 265).attr('fill', 'none').attr('stroke', '#666').attr('stroke-width', 0.8);

// map: plain lon/lat grid, 1.93 px per degree
const projection = d3.geoIdentity().reflectY(true).scale(1.93).translate([630, 322]);
const path = d3.geoPath(projection);
const parseRing = s => {
  const pts = s.trim().split(/\s+/).map(p => p.split(',').map(Number));
  pts.push(pts[0]);
  return pts;
};
const polygon = s => ({ type: 'Polygon', coordinates: [parseRing(s)] });
const bins = [binOver1000, bin100, bin10, bin1, bin0, binNoData, binNotAvailable];

const mapG = svg.append('g').attr('filter', 'url(#soft)');
const defs = svg.append('defs');
defs.append('filter').attr('id', 'soft').attr('x', '-5%').attr('y', '-5%').attr('width', '110%').attr('height', '110%')
  .append('feGaussianBlur').attr('stdDeviation', 0.35);

bins.forEach((bin, b) => {
  mapG.append('g').selectAll('path')
    .data(bin)
    .enter().append('path')
    .attr('d', d => path(polygon(d[1])))
    .attr('fill', binColors[b])
    .attr('stroke', b === 0 ? '#3a0a10' : '#5a5050')
    .attr('stroke-width', 0.4)
    .attr('stroke-linejoin', 'round');
});
mapG.append('g').selectAll('path').data(lakes).enter().append('path')
  .attr('d', d => path(polygon(d)))
  .attr('fill', '#fff')
  .attr('stroke', '#888')
  .attr('stroke-width', 0.2);

mapG.append('g').selectAll('path').data(leaderFrom).enter().append('path')
  .attr('d', (d, i) => path({ type: 'LineString', coordinates: [d, leaderTo[i]] }))
  .attr('fill', 'none').attr('stroke', '#666').attr('stroke-width', 0.5);
mapG.append('g').selectAll('circle').data(islandMarks.concat(leaderTo)).enter().append('circle')
  .attr('cx', d => projection(d)[0])
  .attr('cy', d => projection(d)[1])
  .attr('r', 1.7)
  .attr('fill', '#f2f2f2')
  .attr('stroke', '#777')
  .attr('stroke-width', 0.6);

// legend
const legend = svg.append('g').selectAll('g').data(legendLabels).enter().append('g')
  .attr('transform', (d, i) => `translate(275,${378.5 + i * 8.25})`);
legend.append('rect').attr('y', -2.3).attr('width', 4.6).attr('height', 4.6)
  .attr('fill', (d, i) => binColors[i])
  .attr('stroke', '#888').attr('stroke-width', 0.4);
legend.append('text').attr('x', 12).attr('y', 2.3)
  .attr('fill', '#333').style('font-size', '7px').text(d => d);

// production notes
const credits = svg.append('g').style('font-size', '6.8px').attr('fill', '#333');
[['Map production:', 'World Health Organization, WHO, 2019. All rights reserved', 468], ['Data source:', 'IVB Database', 475.5]].forEach(c => {
  credits.append('text').attr('x', 389).attr('y', c[2]).style('font-weight', 700).text(c[0]);
  credits.append('text').attr('x', 447).attr('y', c[2]).text(c[1]);
});

// scale bar
const scaleX = d3.scaleLinear().domain([0, 3500]).range([883, 945]);
const scaleG = svg.append('g');
scaleG.selectAll('rect').data([[0, 437], [437, 875], [875, 1312], [1312, 1750], [1750, 3500]]).enter().append('rect')
  .attr('x', d => scaleX(d[0]))
  .attr('y', 451.5)
  .attr('width', d => scaleX(d[1]) - scaleX(d[0]))
  .attr('height', 4.5)
  .attr('fill', (d, i) => i % 2 === 0 ? '#000' : '#fff')
  .attr('stroke', '#000').attr('stroke-width', 0.3);
scaleG.selectAll('text').data(scaleStops).enter().append('text')
  .attr('x', (d, i) => i === 3 ? scaleX(d) - 8 : scaleX(d))
  .attr('y', 448)
  .attr('text-anchor', (d, i) => i === 3 ? 'start' : 'middle')
  .attr('fill', '#333')
  .style('font-size', '4.8px')
  .style('font-weight', 700)
  .text((d, i) => scaleStopLabels[i]);

// disclaimer
const disclaimerLines = [
  'The boundaries and names shown and the designations used on this map do not imply the expression of any opinion whatsoever on the part of the',
  'World Health Organization concerning the legal status of any country, territory, city or area or of its authorities, or concerning the delimitation',
  'of its frontiers or boundaries. Dotted and dashed lines on maps represent approximate border lines for which there may not yet be full agreement.'
];
svg.append('text').attr('x', 649).attr('y', 465.5).attr('fill', '#222').style('font-size', '6.4px').style('font-weight', 700).text('Disclaimer:');
svg.append('g').selectAll('text').data(disclaimerLines).enter().append('text')
  .attr('x', 649)
  .attr('y', (d, i) => 472.5 + i * 5.7)
  .attr('fill', '#333')
  .style('font-size', '4.6px')
  .attr('textLength', 325)
  .attr('lengthAdjust', 'spacingAndGlyphs')
  .text(d => d);

// footer
svg.append('text').attr('x', 42).attr('y', 699)
  .attr('fill', '#333')
  .style('font-size', '10.5px')
  .attr('textLength', 702)
  .attr('lengthAdjust', 'spacing')
  .text('Notes: Based on data received 2019-04 - Surveillance data from 2018-09 to 2019-02 - * Countries with highest number of cases for the period');
</script>
</body>
</html>
